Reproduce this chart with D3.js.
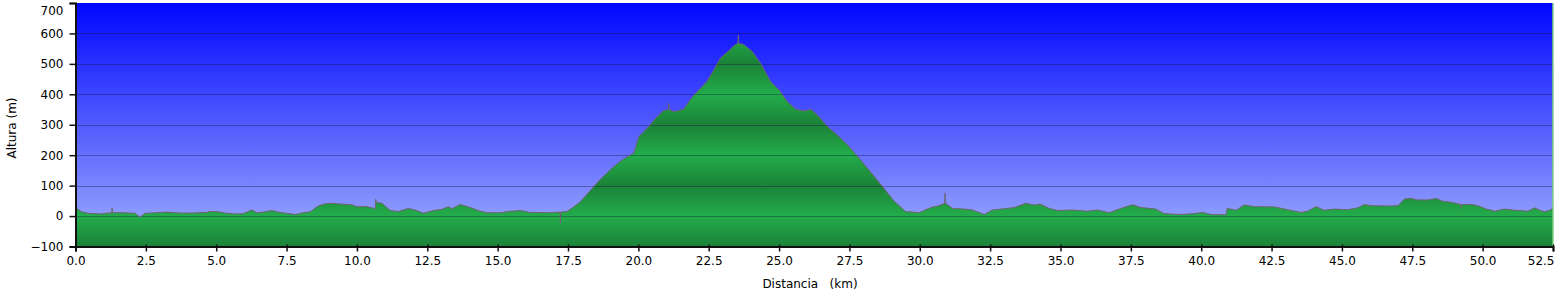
<!DOCTYPE html>
<html><head><meta charset="utf-8">
<script src="https://cdn.jsdelivr.net/npm/d3@7/dist/d3.min.js"></script>
<style>
html,body{margin:0;padding:0;background:#fff;}
svg{display:block;font-family:"DejaVu Sans",Verdana,sans-serif;}
</style></head>
<body>
<svg id="chart" width="1560" height="298"></svg>
<script>
const distanceKm = [0.00,0.04,0.22,0.45,0.87,1.29,1.30,1.31,1.69,2.12,2.29,2.47,2.89,3.24,3.72,4.18,4.66,4.78,5.07,5.38,5.73,5.96,6.14,6.27,6.44,6.67,6.98,7.27,7.51,7.80,8.10,8.34,8.62,8.85,9.05,9.51,9.82,10.00,10.36,10.65,10.67,10.69,10.89,11.18,11.47,11.83,12.13,12.36,12.71,13.02,13.25,13.38,13.67,14.03,14.31,14.62,15.10,15.45,15.81,16.16,16.76,17.22,17.23,17.24,17.47,17.70,17.94,18.41,18.65,19.12,19.42,19.72,19.84,20.02,20.31,20.67,20.90,21.07,21.08,21.09,21.26,21.61,21.91,22.21,22.44,22.68,22.92,23.16,23.39,23.54,23.55,23.56,23.75,24.05,24.34,24.70,25.00,25.29,25.59,25.89,26.13,26.36,26.72,27.07,27.43,27.90,28.49,29.08,29.50,29.67,29.97,30.39,30.68,30.89,30.90,30.91,31.16,31.57,31.87,32.29,32.58,33.00,33.36,33.77,34.07,34.28,34.60,34.90,35.36,35.96,36.31,36.73,37.14,37.56,37.86,38.39,38.68,39.28,39.75,40.05,40.35,40.88,40.92,41.24,41.53,41.89,42.60,43.07,43.55,43.78,44.08,44.37,44.73,45.20,45.56,45.80,46.03,46.75,46.99,47.22,47.46,47.70,48.05,48.35,48.58,48.88,49.23,49.24,49.25,49.60,49.83,50.13,50.43,50.78,51.14,51.61,51.85,52.03,52.20,52.44,52.50];
const altitudeM = [27,25,14,9,7,11,26,11,11,9,-4,9,11,13,10,10,12,15,14,9,7,8,15,20,11,13,18,12,9,5,11,14,33,40,42,39,37,31,31,24,55,44,42,18,15,25,18,9,18,22,31,24,38,28,18,11,11,16,18,12,11,13,-24,13,15,30,47,96,121,162,184,201,207,261,288,327,346,350,371,350,343,351,390,420,442,480,519,538,559,568,595,568,563,540,502,442,414,376,351,345,351,332,294,266,234,184,118,50,14,14,11,28,34,42,75,42,25,23,20,5,20,24,28,42,36,39,25,18,20,16,20,11,25,37,28,23,8,5,8,12,5,4,25,19,36,31,30,21,12,16,31,19,23,21,27,38,34,33,34,56,58,53,53,58,49,45,38,25,38,38,34,23,16,23,19,16,27,19,14,21,30];
const yTicks = [-100,0,100,200,300,400,500,600,700];
const xTicks = [0,2.5,5,7.5,10,12.5,15,17.5,20,22.5,25,27.5,30,32.5,35,37.5,40,42.5,45,47.5,50,52.5];
const xTitle = "Distancia   (km)";
const yTitle = "Altura (m)";

const data = distanceKm.map((d,i)=>({d, a: altitudeM[i]}));
const svg = d3.select("#chart");
const L = 75.5, R = 1553, T = 3, B = 246.5;
const x = d3.scaleLinear().domain([0,52.5]).range([L,R]);
const y = d3.scaleLinear().domain([-100,700]).range([B,T]);

const defs = svg.append("defs");
const sky = defs.append("linearGradient").attr("id","sky").attr("x1",0).attr("y1",0).attr("x2",0).attr("y2",1);
sky.append("stop").attr("offset","0%").attr("stop-color","#0006ff");
sky.append("stop").attr("offset","100%").attr("stop-color","#a2b0fc");

const grn = defs.append("linearGradient").attr("id","grn")
  .attr("gradientUnits","userSpaceOnUse").attr("spreadMethod","reflect")
  .attr("x1",0).attr("x2",0).attr("y1",y(0)).attr("y2",y(100));
grn.append("stop").attr("offset","0%").attr("stop-color","#23ad4b");
grn.append("stop").attr("offset","100%").attr("stop-color","#1b8238");

svg.append("rect").attr("x",L).attr("y",T).attr("width",R-L).attr("height",B-T).attr("fill","url(#sky)");

const area = d3.area().x(p=>x(p.d)).y0(y(-100)).y1(p=>y(p.a));
svg.append("path").datum(data).attr("d",area).attr("fill","url(#grn)");

// grid
svg.append("g").selectAll("line").data(yTicks.filter(v=>v>-100 && v<700)).join("line")
  .attr("x1",L).attr("x2",R).attr("y1",v=>Math.round(y(v))+0.5).attr("y2",v=>Math.round(y(v))+0.5)
  .attr("stroke","rgba(20,20,60,0.38)").attr("stroke-width",1);

const line = d3.line().x(p=>x(p.d)).y(p=>y(p.a));
svg.append("path").datum(data).attr("d",line).attr("fill","none")
  .attr("stroke","#6e6470").attr("stroke-width",1);

// right edge marker
svg.append("line").attr("x1",R).attr("x2",R).attr("y1",T).attr("y2",B)
  .attr("stroke","#7fd07f").attr("stroke-width",1.5);

// axes
const ya = svg.append("g").attr("transform",`translate(${L},0)`)
  .call(d3.axisLeft(y).tickValues(yTicks).tickSize(6).tickPadding(6).tickFormat(d3.format("d")));
const xa = svg.append("g").attr("transform",`translate(0,${B})`)
  .call(d3.axisBottom(x).tickValues(xTicks).tickSize(5).tickPadding(5).tickFormat(d3.format(".1f")));
[ya,xa].forEach(g=>{
  g.select(".domain").attr("stroke","#111").attr("stroke-width",2);
  g.selectAll(".tick line").attr("stroke","#111").attr("stroke-width",1.5);
  g.selectAll("text").attr("fill","#000").style("font-size","12px").style("font-family","'DejaVu Sans',Verdana,sans-serif");
});
ya.selectAll(".tick text").filter(d=>d===700).attr("dy","0.95em");
xa.selectAll(".tick line").attr("y1",-2);
xa.selectAll(".tick text").filter(d=>d===52.5).attr("text-anchor","end").attr("dx","1");

svg.append("text").attr("transform","translate(16,128) rotate(-90)").attr("text-anchor","middle")
  .style("font-size","12px").attr("fill","#000").text(yTitle);
svg.append("text").attr("x",810).attr("y",288).attr("text-anchor","middle")
  .style("font-size","12px").style("white-space","pre").attr("fill","#000").text(xTitle);
</script>
</body></html>
